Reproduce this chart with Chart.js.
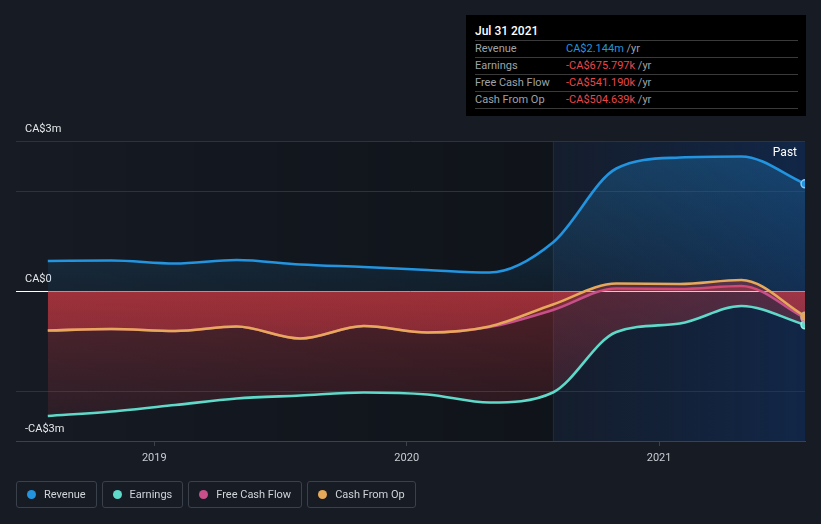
<!DOCTYPE html>
<html><head><meta charset="utf-8">
<script src="https://cdn.jsdelivr.net/npm/chart.js@4.4.0/dist/chart.umd.min.js"></script>
<style>
html,body{margin:0;padding:0;background:#161b24;width:821px;height:524px;overflow:hidden;font-family:Roboto,"Liberation Sans",sans-serif;}
#wrap{position:absolute;left:0;top:0;width:821px;height:524px;}
#tip{position:absolute;left:466px;top:15px;width:340px;height:101px;background:#000;box-sizing:border-box;padding:8px 8px 0 9px;}
#tip .title{height:17px;line-height:17px;color:#fff;font-size:12px;font-weight:500;border-bottom:1px solid #3a3a3a;}
#tip .row{height:16px;line-height:16px;font-size:11px;border-bottom:1px solid #3a3a3a;display:flex;}
#tip .lab{width:91px;color:#9ea3a9;}
#tip .unit{color:#9ea3a9;}
#legend{position:absolute;left:16px;top:481px;display:flex;gap:5px;}
#legend .item{height:25px;border:1px solid #3b414a;border-radius:3px;display:flex;align-items:center;padding:0 10px 0 10px;color:#d0d4d9;font-size:11px;}
#legend .dot{width:9px;height:9px;border-radius:50%;margin-right:8px;}
</style></head>
<body>
<div id="wrap"><canvas id="c" width="821" height="524"></canvas></div>
<div id="tip"></div>
<div id="legend"></div>
<script>
const dates = ['2018-07-31','2018-10-31','2019-01-31','2019-04-30','2019-07-31','2019-10-31','2020-01-31','2020-04-30','2020-07-31','2020-10-31','2021-01-31','2021-04-30','2021-07-31'];
const revenue = [0.60,0.61,0.55,0.62,0.53,0.48,0.42,0.37,0.97,2.45,2.67,2.69,2.144];
const earnings = [-2.50,-2.41,-2.28,-2.15,-2.09,-2.03,-2.07,-2.23,-2.03,-0.82,-0.65,-0.30,-0.675797];
const freeCashFlow = [-0.79,-0.76,-0.80,-0.71,-0.95,-0.70,-0.83,-0.72,-0.38,0.05,0.04,0.10,-0.54119];
const cashFromOp = [-0.79,-0.76,-0.80,-0.71,-0.95,-0.70,-0.83,-0.71,-0.27,0.15,0.14,0.22,-0.504639];
const seriesNames = ['Revenue','Earnings','Free Cash Flow','Cash From Op'];
const seriesColors = ['#2394df','#5fd9c9','#c8508a','#e6a85a'];
const markerBorders = ['#8fcaf2','#a4eee4','#d79bb8','#c9b08a'];
const yTickValues = [-3,-2,0,2,3];
const yTickLabels = {'3':'CA$3m','0':'CA$0','-3':'-CA$3m'};
const xTickValues = [2019,2020,2021];
const xMin = '2018-06-15';
const pastStart = '2020-07-31';
const tipTitle = 'Jul 31 2021';

function toYear(s){const d=Date.parse(s+'T00:00:00Z');const y=new Date(d).getUTCFullYear();const a=Date.UTC(y,0,1),b=Date.UTC(y+1,0,1);return y+(d-a)/(b-a);}
const xs = dates.map(toYear);
const pts = arr => arr.map((v,i)=>({x:xs[i],y:v}));

function redFill(c){const ch=c.chart;const ca=ch.chartArea;if(!ca)return 'rgba(0,0,0,0)';
  const y0=ch.scales.y.getPixelForValue(0);const g=ch.ctx.createLinearGradient(0,y0,0,ca.bottom);
  g.addColorStop(0,'rgba(222,60,70,0.32)');g.addColorStop(1,'rgba(222,60,70,0.07)');return g;}
function blueFill(c){const ch=c.chart;const ca=ch.chartArea;if(!ca)return 'rgba(0,0,0,0)';
  const y0=ch.scales.y.getPixelForValue(0);const g=ch.ctx.createLinearGradient(0,ca.top,0,y0);
  g.addColorStop(0,'rgba(35,148,223,0.30)');g.addColorStop(1,'rgba(35,148,223,0.08)');return g;}

const n = dates.length;
function ds(i,data,fillFn,order){
  return {label:seriesNames[i],data:pts(data),borderColor:seriesColors[i],borderWidth:2.6,
    backgroundColor:fillFn,fill:'origin',cubicInterpolationMode:'monotone',order:order,
    pointRadius:data.map((v,k)=>k===n-1?4:0),pointBackgroundColor:seriesColors[i],
    pointBorderColor:markerBorders[i],pointBorderWidth:1.5,pointHoverRadius:0,clip:{left:0,right:0,top:false,bottom:false}};
}

const bgPlugin={id:'bg',beforeDraw(ch){const ca=ch.chartArea,ctx=ch.ctx,x=ch.scales.x;
  const px=x.getPixelForValue(toYear(pastStart));
  ctx.save();
  let g=ctx.createLinearGradient(ca.left,0,px,0);g.addColorStop(0,'rgba(0,0,0,0)');g.addColorStop(1,'rgba(0,0,0,0.28)');
  ctx.fillStyle=g;ctx.fillRect(ca.left,ca.top,px-ca.left,ca.bottom-ca.top);
  g=ctx.createLinearGradient(px,0,ca.right,0);g.addColorStop(0,'rgba(12,50,110,0.12)');g.addColorStop(1,'rgba(12,55,120,0.42)');
  ctx.fillStyle=g;ctx.fillRect(px,ca.top,ca.right-px,ca.bottom-ca.top);
  ctx.fillStyle='rgba(40,60,90,0.5)';ctx.fillRect(px,ca.top,1,ca.bottom-ca.top);
  ctx.restore();},
  afterDatasetsDraw(ch){const ca=ch.chartArea,ctx=ch.ctx;ctx.save();ctx.fillStyle='#ffffff';ctx.font='12px Roboto';
    ctx.textAlign='right';ctx.textBaseline='middle';ctx.fillText('Past',ca.right-8,153);ctx.restore();}};

Chart.defaults.font.family='Roboto';
new Chart(document.getElementById('c'),{
  type:'line',
  data:{datasets:[ds(0,revenue,blueFill,3),ds(1,earnings,redFill,2),ds(2,freeCashFlow,redFill,1),ds(3,cashFromOp,redFill,0)]},
  options:{responsive:false,animation:false,events:[],
    layout:{padding:{left:16,right:16,top:141,bottom:0}},
    plugins:{legend:{display:false},tooltip:{enabled:false}},
    scales:{
      x:{type:'linear',min:toYear(xMin),max:xs[n-1],
        afterBuildTicks(s){s.ticks=xTickValues.map(v=>({value:v}));},
        afterFit(s){s.height=83;},
        ticks:{callback:v=>String(v),color:'#c9cdd2',font:{size:11},padding:6,maxRotation:0},
        grid:{drawOnChartArea:false,drawTicks:true,tickLength:5,color:'#3d424a'},
        border:{display:true,color:'#3d424a'}},
      y:{type:'linear',min:-3,max:3,
        afterBuildTicks(s){s.ticks=yTickValues.map(v=>({value:v}));},
        afterFit(s){s.width=0;},
        ticks:{mirror:true,padding:9,labelOffset:-12,color:'#e6e8eb',font:{size:11},callback:v=>yTickLabels[String(v)]||''},
        grid:{drawTicks:false,color:c=>c.tick&&c.tick.value===0?'#ffffff':'#2d323b',lineWidth:1},
        border:{display:false}}
    }},
  plugins:[bgPlugin]
});

// tooltip box
function fmt(v){const a=Math.abs(v);const s=a>=1?'CA$'+a.toFixed(3)+'m':'CA$'+(a*1000).toFixed(3)+'k';return (v<0?'-':'')+s;}
const tip=document.getElementById('tip');
let html='<div class="title">'+tipTitle+'</div>';
[revenue,earnings,freeCashFlow,cashFromOp].forEach((arr,i)=>{const v=arr[n-1];
  html+='<div class="row"><span class="lab">'+seriesNames[i]+'</span><span style="color:'+(v<0?'#e8474a':'#2394df')+'">'+fmt(v)+'</span><span class="unit">&nbsp;/yr</span></div>';});
tip.innerHTML=html;
const lg=document.getElementById('legend');
seriesNames.forEach((s,i)=>{lg.innerHTML+='<div class="item"><span class="dot" style="background:'+seriesColors[i]+'"></span>'+s+'</div>';});
</script>
</body></html>
